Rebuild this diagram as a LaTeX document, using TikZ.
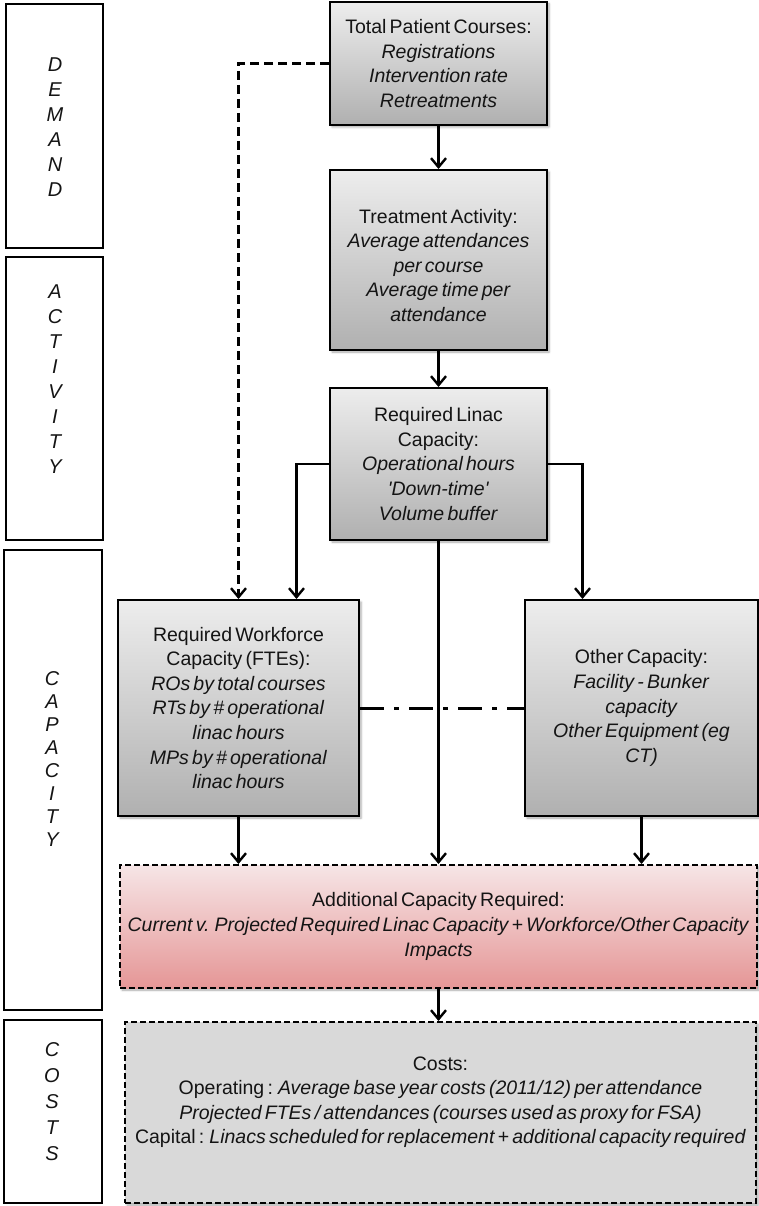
\documentclass[tikz,border=0pt]{standalone}
\usepackage{fontspec}
\setmainfont{Liberation Sans}[WordSpace=0.6]
\usetikzlibrary{arrows.meta,shadows.blur}
\definecolor{boxtop}{RGB}{237,237,237}
\definecolor{boxbot}{RGB}{176,176,176}
\definecolor{pinktop}{RGB}{246,229,230}
\definecolor{pinkbot}{RGB}{229,150,150}
\definecolor{costfill}{RGB}{217,217,217}
\definecolor{txt}{RGB}{20,20,20}

\begin{document}
\begin{tikzpicture}[x=1pt,y=-1pt,
  stage/.style={rectangle, draw, line width=1.8pt, inner sep=0pt},
  stagetext/.style={align=center, text=txt, font=\fontsize{20}{25}\selectfont\itshape},
  basebox/.style={rectangle, draw, line width=2pt, align=center, inner sep=0pt, text=txt,
    font=\fontsize{19.5}{24.6}\selectfont,
    blur shadow={shadow xshift=2pt, shadow yshift=-2pt, shadow blur steps=4, shadow opacity=35}},
  flowbox/.style={basebox, top color=boxtop, bottom color=boxbot},
  dashbox/.style={dash pattern=on 6pt off 3pt},
  conn/.style={draw, line width=2.4pt, -{Straight Barb[length=9pt,width=15pt]}}
]
\useasboundingbox (0,0) rectangle (759,1206);

\node[stage, minimum width=97pt, minimum height=244pt] (demand) at (54.5,126) {};
\node[stage, minimum width=97pt, minimum height=283pt] (activity) at (54.5,398.5) {};
\node[stage, minimum width=98pt, minimum height=460pt] (capacity) at (53,780) {};
\node[stage, minimum width=98pt, minimum height=183pt] (costsstage) at (53,1111.5) {};
\node[stagetext] (demandtxt) at (55,127.5) {D\\E\\M\\A\\N\\D};
\node[stagetext] (activitytxt) at (55,379) {A\\C\\T\\I\\V\\I\\T\\Y};
\node[stagetext, font=\fontsize{20}{23}\selectfont\itshape] (capacitytxt) at (52,759) {C\\A\\P\\A\\C\\I\\T\\Y};
\node[stagetext, font=\fontsize{20}{26}\selectfont\itshape] (coststxt) at (52,1102) {C\\O\\S\\T\\S};

\node[flowbox, minimum width=217pt, minimum height=123pt] (total) at (438.5,63.5) {Total Patient Courses:\\\textit{Registrations}\\\textit{Intervention rate}\\\textit{Retreatments}};
\node[flowbox, minimum width=217pt, minimum height=180pt] (treat) at (438.5,260) {~\\Treatment Activity:\\\textit{Average attendances}\\\textit{per course}\\\textit{Average time per}\\\textit{attendance}};
\node[flowbox, minimum width=217pt, minimum height=152pt] (linac) at (438.5,464) {Required Linac\\Capacity:\\\textit{Operational hours}\\\textit{\textquotesingle Down-time\textquotesingle}\\\textit{Volume buffer}};
\node[flowbox, minimum width=241pt, minimum height=216pt] (work) at (238.5,708) {Required Workforce\\Capacity (FTEs):\\\textit{ROs by total courses}\\\textit{RTs by \# operational}\\\textit{linac hours}\\\textit{MPs by \# operational}\\\textit{linac hours}};
\node[flowbox, minimum width=233pt, minimum height=216pt] (other) at (641.5,708) {Other Capacity:\\\textit{Facility - Bunker}\\\textit{capacity}\\\textit{Other Equipment (eg}\\\textit{CT)}};
\node[basebox, dashbox, top color=pinktop, bottom color=pinkbot, minimum width=637pt, minimum height=123pt] (addl) at (438.5,926.5) {Additional Capacity Required:\\\textit{Current v. Projected Required Linac Capacity + Workforce/Other Capacity}\\\textit{Impacts}};
\node[basebox, dashbox, fill=costfill, minimum width=631pt, minimum height=181pt] (costs) at (440.5,1112.5) {Costs:\\Operating : \textit{Average base year costs (2011/12) per attendance}\\\textit{Projected FTEs / attendances (courses used as proxy for FSA)}\\Capital : \textit{Linacs scheduled for replacement + additional capacity required}\\~};

\draw[conn, dash pattern=on 9pt off 5pt] (total.west) -| (work.north);
\draw[conn] (total) -- (treat);
\draw[conn] (treat) -- (linac);
\draw[conn] (linac.west) -| ([xshift=58pt]work.north);
\draw[conn] (linac.east) -| ([xshift=-59pt]other.north);
\draw[conn] (linac) -- (addl);
\draw[conn] (work.south) -- (work.south |- addl.north);
\draw[conn] (other.south) -- (other.south |- addl.north);
\draw[conn] (addl.south) -- (addl.south |- costs.north);
\draw[line width=3pt, dash pattern=on 24pt off 10pt on 5pt off 10pt] (work.east) -- (other.west);
\end{tikzpicture}
\end{document}
